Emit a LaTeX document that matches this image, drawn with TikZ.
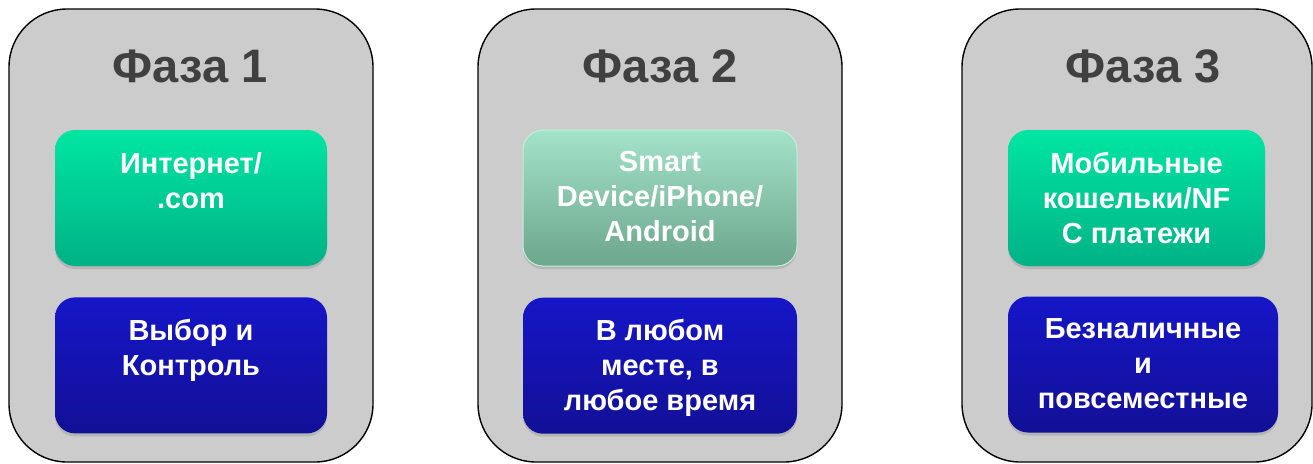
\documentclass[tikz,border=0pt]{standalone}
\usepackage{fontspec}
\setmainfont{Liberation Sans}
\usetikzlibrary{positioning,calc,shadows}

\definecolor{panelgray}{RGB}{204,204,204}
\definecolor{titlegray}{RGB}{64,64,64}
\definecolor{greentop}{RGB}{0,230,162}
\definecolor{greenbot}{RGB}{0,178,134}
\definecolor{palegreentop}{RGB}{163,227,202}
\definecolor{palegreenbot}{RGB}{108,166,140}
\definecolor{paleedge}{RGB}{196,238,220}
\definecolor{bluetop}{RGB}{22,22,200}
\definecolor{bluebot}{RGB}{18,16,150}

\tikzset{
  phase/.style={draw=black, line width=1.4pt, fill=panelgray, rounded corners=58pt,
    minimum width=364pt, minimum height=453pt, inner sep=0pt},
  phasetitle/.style={anchor=base, text=titlegray,
    font=\fontsize{47}{55}\selectfont\bfseries},
  card/.style={rounded corners=20pt, minimum height=136pt, inner sep=0pt,
    drop shadow={shadow xshift=0pt, shadow yshift=-3pt, opacity=.3}},
  greencard/.style={card, top color=greentop, bottom color=greenbot},
  palecard/.style={card, top color=palegreentop, bottom color=palegreenbot,
    draw=paleedge, line width=1pt},
  bluecard/.style={card, top color=bluetop, bottom color=bluebot},
  cardtext/.style={anchor=north, text=white, align=center, inner sep=0pt,
    font=\fontsize{29}{35}\selectfont\bfseries}
}

\begin{document}
\begin{tikzpicture}[x=1pt,y=-1pt]
  \useasboundingbox (0,0) rectangle (1313,463);

  % panels
  \node[phase] (p1) at (191,235.5) {};
  \node[phase] (p2) at (660,235.5) {};
  \node[phase, minimum width=350pt] (p3) at (1137,235.5) {};

  \node[phasetitle] (t1) at (190,82) {Фаза 1};
  \node[phasetitle] (t2) at (660,82) {Фаза 2};
  \node[phasetitle] (t3) at (1143,82) {Фаза 3};

  % cards
  \node[greencard, minimum width=272pt] (g1) at (191,198) {};
  \node[bluecard, minimum width=272pt, below=31pt of g1] (b1) {};
  \node[palecard, minimum width=274pt] (g2) at (660,198) {};
  \node[bluecard, minimum width=274pt, below=31pt of g2] (b2) {};
  \node[greencard, minimum width=257pt] (g3) at (1136.5,198) {};
  \node[bluecard, minimum width=270pt] (b3) at (1143,364.5) {};

  \node[cardtext] (g1t) at ($(g1.north)+(0,22)$) {Интернет/\\.com};
  \node[cardtext] (b1t) at ($(b1.north)+(0,22)$) {Выбор и\\Контроль};
  \node[cardtext] (g2t) at ($(g2.north)+(0,22)$) {Smart\\Device/iPhone/\\Android};
  \node[cardtext] (b2t) at ($(b2.north)+(0,22)$) {В любом\\месте, в\\любое время};
  \node[cardtext] (g3t) at ($(g3.north)+(0,22)$) {Мобильные\\кошельки/NF\\С платежи};
  \node[cardtext] (b3t) at ($(b3.north)+(0,22)$) {Безналичные\\и\\повсеместные};
\end{tikzpicture}
\end{document}
